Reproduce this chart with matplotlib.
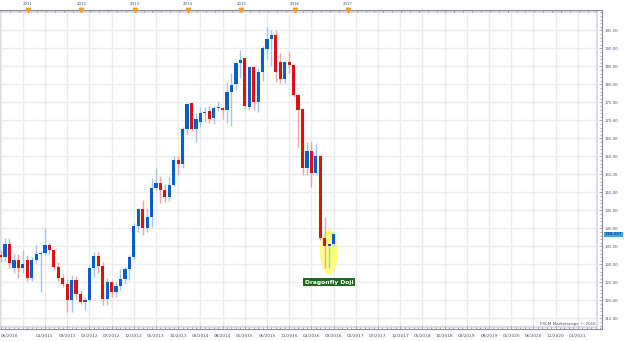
import numpy as np
import matplotlib
matplotlib.use("Agg")
import matplotlib.pyplot as plt
from matplotlib.patches import Ellipse, Rectangle
from matplotlib.transforms import blended_transform_factory

# monthly candles, 06/2010 .. 09/2016
opens = [132.6, 132.0, 135.6, 129.1, 131.1, 128.9, 131.2, 126.3, 131.1, 132.8,
         133.2, 135.4, 134.0, 129.3, 126.3, 124.4, 120.1, 125.6, 121.7, 119.4,
         120.1, 129.1, 132.4, 129.5, 120.4, 125.2, 122.2, 124.1, 125.8, 128.6,
         131.9, 140.7, 145.4, 140.2, 143.1, 151.3, 152.5, 150.6, 148.8, 152.0,
         159.0, 157.8, 167.6, 174.8, 167.6, 169.6, 172.0, 172.6, 170.7, 173.3,
         173.5, 172.9, 177.9, 180.1, 185.8, 187.2, 173.6, 184.7, 175.2, 183.3,
         189.8, 192.5, 193.7, 186.1, 181.4, 186.1, 185.4, 177.0, 173.1, 156.7,
         161.6, 155.3, 160.2, 137.2, 135.1, 135.7]
highs = [134.0, 137.4, 137.4, 132.8, 132.8, 134.0, 132.6, 132.0, 135.4, 133.6,
         140.0, 136.0, 134.2, 130.7, 127.3, 126.0, 127.0, 126.7, 123.0, 121.0,
         129.9, 133.5, 133.5, 130.7, 126.2, 125.6, 125.2, 128.6, 129.3, 132.6,
         141.4, 145.6, 147.9, 145.6, 153.9, 156.7, 154.5, 152.3, 154.5, 160.1,
         160.0, 168.2, 174.8, 175.2, 172.0, 173.6, 173.6, 174.0, 174.0, 175.4,
         173.8, 180.7, 183.1, 186.3, 189.5, 187.4, 185.0, 185.0, 184.5, 190.6,
         196.0, 195.1, 195.1, 188.6, 186.5, 188.9, 185.6, 177.2, 173.3, 164.1,
         164.1, 163.6, 160.4, 143.1, 136.0, 138.6]
lows = [130.7, 130.7, 129.1, 127.7, 126.3, 127.7, 125.4, 125.4, 130.5, 122.4,
        132.6, 133.0, 128.4, 125.4, 123.8, 116.8, 116.8, 120.4, 119.1, 117.3,
        119.7, 126.6, 127.5, 118.7, 118.7, 120.8, 120.8, 122.9, 124.5, 125.6,
        131.2, 139.1, 138.1, 139.1, 140.4, 150.6, 147.1, 147.4, 147.6, 151.7,
        154.8, 156.7, 165.9, 167.0, 164.1, 168.2, 169.6, 169.2, 169.0, 172.5,
        170.4, 169.3, 168.5, 178.5, 181.7, 173.1, 172.8, 173.0, 172.3, 181.0,
        186.9, 185.1, 180.7, 180.4, 180.4, 183.1, 176.6, 162.7, 154.8, 154.8,
        151.5, 155.0, 136.7, 128.9, 128.9, 135.0]
closes = [132.0, 135.6, 130.4, 131.1, 129.0, 130.0, 126.3, 131.2, 132.8, 133.2,
          135.4, 134.0, 129.3, 126.3, 124.4, 120.1, 125.6, 121.7, 119.4, 120.1,
          129.1, 132.4, 129.5, 120.4, 125.0, 122.2, 124.1, 125.8, 128.6, 131.9,
          140.7, 145.4, 140.2, 143.1, 151.3, 152.5, 150.6, 148.8, 152.0, 159.0,
          157.8, 167.6, 174.4, 167.6, 170.4, 172.0, 172.4, 170.4, 173.3, 173.8,
          172.9, 177.9, 179.8, 186.0, 186.7, 174.1, 184.7, 175.2, 183.3, 190.0,
          192.5, 193.7, 183.3, 181.4, 186.1, 185.4, 177.0, 172.9, 156.7, 161.6,
          155.3, 160.2, 137.2, 135.1, 135.7, 138.297]

# axis labels
month_ticks = [0, 10, 15, 20, 25, 30, 35, 40, 45, 50, 55, 60, 65, 70, 75, 80,
               85, 90, 95, 100, 105, 110, 115, 120, 125, 130]
month_labels = ["06/2010", "04/2011", "09/2011", "02/2012", "07/2012", "12/2012",
                "05/2013", "10/2013", "03/2014", "08/2014", "01/2015", "06/2015",
                "11/2015", "04/2016", "09/2016", "02/2017", "07/2017", "12/2017",
                "05/2018", "10/2018", "03/2019", "08/2019", "01/2020", "06/2020",
                "11/2020", "04/2021"]
years = ["2011", "2012", "2013", "2014", "2015", "2016", "2017"]
price_ticks = list(range(115, 200, 5))

lab_col = "#4a4a78"
blue, red = "#0a5ec8", "#e01010"
blue_w, red_w = "#a4c6ec", "#f2a4a4"

fig = plt.figure(figsize=(6.24, 3.41), dpi=100)
W, H = 624, 341
ax = fig.add_axes([0, (H - 329) / H, 602 / W, 319.5 / H])
x0, x1 = -0.135, 135.45
y0, y1 = 112.03, 200.78

# grid inside the inner frame
inner_x1, inner_y0, inner_y1 = 134.3, 112.6, 200.08
ax.vlines(range(0, 131, 5), inner_y0, inner_y1, color="#ececec", lw=1, zorder=0)
ax.hlines(price_ticks, x0, inner_x1, color="#ececec", lw=1, zorder=0)
ax.add_patch(Rectangle((0, 0.00626), 597 / 602, 0.986, transform=ax.transAxes,
                       fill=False, ec="#dcdce6", lw=1.5, zorder=1))

# highlight
ax.add_patch(Ellipse((73.96, 133.4), 4.1, 12.5, color="#ffff55", alpha=0.75, lw=0, zorder=2))

x = np.arange(len(opens))
o = np.array(opens)
c = np.array(closes)
up = c >= o
ax.vlines(x, lows, highs, color=np.where(up, blue_w, red_w), lw=1, zorder=3)
body = np.maximum(np.abs(c - o), 0.35)
ax.bar(x, body, bottom=np.minimum(o, c), width=0.72,
       color=np.where(up, blue, red), lw=0, zorder=4)

ax.text(73.96, 124.95, "Dragonfly Doji", color="white", fontsize=4.3, fontweight="bold",
        ha="center", va="center", zorder=6,
        bbox=dict(boxstyle="square,pad=0.25", fc="#1c6b1c", ec="none"))

ax.set_xlim(x0, x1)
ax.set_ylim(y0, y1)

# axes styling
for s in ["top", "right", "bottom"]:
    ax.spines[s].set_color("#8a8a98")
    ax.spines[s].set_linewidth(0.8)
ax.spines["left"].set_visible(False)

ax.set_xticks(month_ticks)
ax.set_xticklabels(month_labels)
ax.set_xticks(range(0, 136), minor=True)
ax.tick_params(axis="x", which="both", direction="in", colors="#8a8a98",
               labelcolor=lab_col, labelsize=3.1, pad=3.5, length=2.5, width=0.5)
ax.tick_params(axis="x", which="minor", length=1.5)
ax.get_xticklabels()[0].set_horizontalalignment("left")

ax.yaxis.tick_right()
ax.set_yticks(price_ticks)
ax.set_yticklabels([f"{p:.2f}" for p in price_ticks])
ax.set_yticks(range(113, 201), minor=True)
ax.tick_params(axis="y", which="both", direction="in", colors="#8a8a98",
               labelcolor=lab_col, labelsize=2.8, pad=1.5, length=2.5, width=0.5)
ax.tick_params(axis="y", which="minor", length=1.3)

# top year axis
top = ax.twiny()
top.set_xlim(x0, x1)
for s in top.spines.values():
    s.set_visible(False)
year_pos = [6.2 + 12 * k for k in range(len(years))]
other_years = [6.2 + 12 * k for k in range(len(years), 11)]
top.set_xticks(year_pos)
top.set_xticklabels(years)
top.set_xticks(list(np.arange(0.2, 135, 2)) + other_years, minor=True)
top.tick_params(axis="x", which="major", direction="in", length=0, pad=2.5,
                labelsize=2.8, labelcolor=lab_col)
top.tick_params(axis="x", which="minor", direction="in", length=1.5, width=0.5,
                colors="#8a8a98")
tr = blended_transform_factory(ax.transData, ax.transAxes)
ax.plot(year_pos, [1.0] * len(year_pos), "v", color="#f5a020", ms=3.2,
        transform=tr, clip_on=False, zorder=7)

# last price box
tr2 = blended_transform_factory(ax.transAxes, ax.transData)
ax.text(1.004, closes[-1], f"{closes[-1]:.3f}", transform=tr2, fontsize=3.1,
        color="#102040", ha="left", va="center", zorder=8,
        bbox=dict(boxstyle="square,pad=0.12", fc="#38a8ec", ec="none"))

fig.text(596 / W, (H - 324) / H, "FXCM Marketscope \u00a9 2016", fontsize=3.0,
         color=lab_col, ha="right", va="center")

fig.savefig("out.png", dpi=100)
